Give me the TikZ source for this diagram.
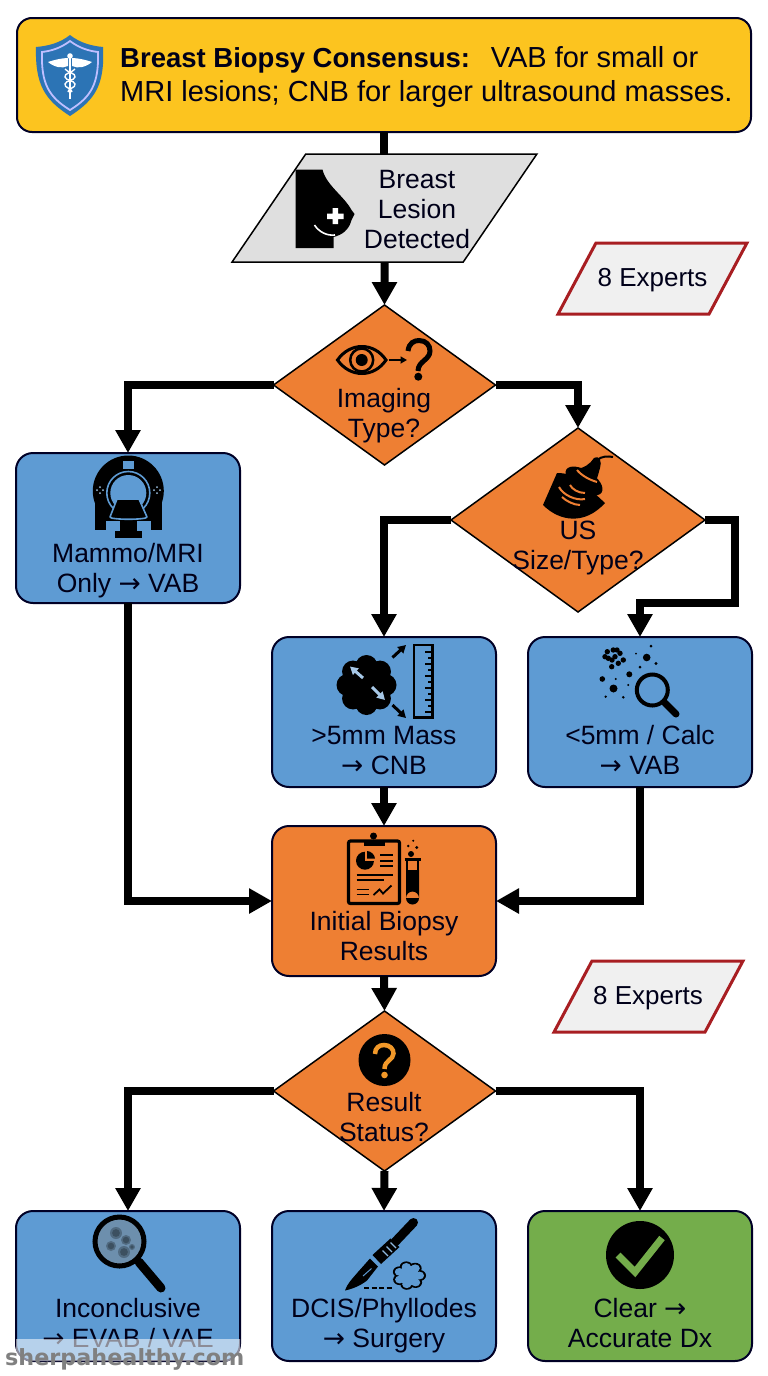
\documentclass[tikz,border=0pt]{standalone}
\usepackage{fontspec}
\setmainfont{Liberation Sans}
\newfontfamily\arrowfont{DejaVu Sans}
\usepackage{tikz}
\usetikzlibrary{shapes.geometric,arrows.meta}
\newcommand{\toarrow}{{\arrowfont →}}
\definecolor{boxblue}{HTML}{5E9BD3}
\definecolor{boxorange}{HTML}{EE7F33}
\definecolor{boxgreen}{HTML}{74AD4B}
\definecolor{boxyellow}{HTML}{FCC41F}
\definecolor{boxgray}{HTML}{DFDFDF}
\definecolor{notered}{HTML}{A81E22}
\definecolor{shieldblue}{HTML}{2C74B5}
\tikzset{box style/.style={
		draw=black!85!blue,
		line width=2pt,
		rectangle,
		rounded corners=17pt,
		minimum width=224pt,
		minimum height=150pt,
		inner sep=0pt,
		outer sep=0pt,
	},
	diamond style/.style={
		draw=black,
		line width=1.5pt,
		fill=boxorange,
		diamond,
		minimum width=222pt,
		minimum height=160pt,
		inner sep=0pt,
		outer sep=0pt,
	},
	input style/.style={
		draw=black,
		line width=1.5pt,
		fill=boxgray,
		trapezium,
		trapezium left angle=65.6,
		trapezium right angle=114.4,
		trapezium stretches=true,
		minimum width=305pt,
		minimum height=108pt,
		inner sep=0pt,
		outer sep=0pt,
	},
	note style/.style={
		draw=notered,
		line width=3pt,
		fill=black!6,
		trapezium,
		trapezium left angle=72,
		trapezium right angle=108,
		trapezium stretches=true,
		minimum width=189pt,
		minimum height=71pt,
		inner sep=0pt,
		outer sep=0pt,
	},
	text style/.style={
		align=center,
		inner sep=0pt,
		text=black!90!blue,
		font=\fontsize{26.5}{30}\selectfont,
	},
	flow style/.style={
		line width=8pt,
		draw=black,
		-{Triangle[length=23pt,width=24pt]},
	},
	stem style/.style={
		line width=8pt,
		draw=black,
	},
	arrow small/.style={
		line width=#1,
		-{Triangle[length=2.6*#1,width=2.8*#1]},
	},
}

\begin{document}
\begin{tikzpicture}[x=1pt,y=-1pt]
	\useasboundingbox[fill=white] (0,0) rectangle (768,1376);

	\node[box style, fill=boxyellow, rounded corners=15pt, minimum width=734pt, minimum height=114pt] (banner) at (384,75) {};
	\node[input style] (lesion) at (384.5,208) {\phantom{X}};
	\node[diamond style] (imaging) at (384.5,385) {};
	\node[diamond style, minimum width=254pt, minimum height=184pt] (us) at (578,520) {};
	\node[box style, fill=boxblue] (mammo) at (128,528) {};
	\node[box style, fill=boxblue] (mass) at (384,712) {};
	\node[box style, fill=boxblue] (calc) at (640,712) {};
	\node[box style, fill=boxorange] (initial) at (384,901) {};
	\node[diamond style] (result) at (384.5,1091) {};
	\node[box style, fill=boxblue] (inconclusive) at (128,1286) {};
	\node[box style, fill=boxblue] (dcis) at (384,1286) {};
	\node[box style, fill=boxgreen] (clear) at (640,1286) {};
	\node[note style] (experts1) at (652.5,278.5) {\phantom{X}};
	\node[note style] (experts2) at (648.5,996.5) {\phantom{X}};
	\coordinate (uselbow) at (735,603);

	\draw[stem style] (banner.south) -- (banner.south |- lesion.north);
	\draw[flow style] (lesion.south) -- (imaging.north);
	\draw[flow style] (imaging.west) -| (mammo.north);
	\draw[flow style] (imaging.east) -| (us.north);
	\draw[flow style] (us.west) -| (mass.north);
	\draw[flow style] (us.east) -| (uselbow) -| (calc.north);
	\draw[flow style] (mammo.south) |- (initial.west);
	\draw[flow style] (mass.south) -- (initial.north);
	\draw[flow style] (calc.south) |- (initial.east);
	\draw[flow style] (initial.south) -- (result.north);
	\draw[flow style] (result.west) -| (inconclusive.north);
	\draw[flow style] (result.south) -- (dcis.north);
	\draw[flow style] (result.east) -| (clear.north);

	\node[text style, anchor=west, align=left, font=\fontsize{29}{34}\selectfont] (bannertext) at (120,77) {{\fontsize{27.5}{34}\selectfont\textbf{Breast Biopsy Consensus:}}\hspace{10pt} VAB for small or\\MRI lesions; CNB for larger ultrasound masses.};
	\node[text style] (lesiontext) at (417,210) {Breast\\Lesion\\Detected};
	\node[text style, font=\fontsize{26}{30}\selectfont] (experts1text) at (652.5,280) {8 Experts};
	\node[text style, font=\fontsize{26}{30}\selectfont] (experts2text) at (648,998) {8 Experts};
	\node[text style] (imagingtext) at (384,416) {Imaging\\Type?};
	\node[text style] (ustext) at (578,547.5) {US\\Size/Type?};
	\node[text style] (mammotext) at (128,571) {Mammo/MRI\\Only \toarrow{} VAB};
	\node[text style] (masstext) at (384,751) {>5mm Mass\\\toarrow{} CNB};
	\node[text style] (calctext) at (640,750) {<5mm / Calc\\\toarrow{} VAB};
	\node[text style] (initialtext) at (384,936) {Initial Biopsy\\Results};
	\node[text style] (resulttext) at (384,1117) {Result\\Status?};
	\node[text style] (inconclusivetext) at (128,1323) {Inconclusive\\\toarrow{} EVAB / VAE};
	\node[text style] (dcistext) at (384,1326) {DCIS/Phyllodes\\\toarrow{} Surgery};
	\node[text style] (cleartext) at (640,1323) {Clear \toarrow\\Accurate Dx};

	\fill[shieldblue] (70,35) .. controls (80,43) and (92,46) .. (103,47) .. controls (105,85) and (95,100) .. (70,116) .. controls (45,100) and (35,85) .. (36,47) .. controls (48,46) and (60,43) .. (70,35) -- cycle;
	\draw[blue!25!white, line width=1.8pt] (70,41) .. controls (79,48) and (89,51) .. (98,52) .. controls (99,84) and (91,97) .. (70,110) .. controls (49,97) and (41,84) .. (42,52) .. controls (51,51) and (61,48) .. (70,41) -- cycle;
	\fill[white] (68,58) .. controls (62,58) and (54,60) .. (48,62) .. controls (54,67) and (62,69) .. (68,66) -- cycle;
	\fill[white] (72,58) .. controls (78,58) and (86,60) .. (92,62) .. controls (86,67) and (78,69) .. (72,66) -- cycle;
	\fill[white] (70,56) circle (2.8);
	\draw[white, line width=1.6pt] (70,56) -- (70,99);
	\draw[white, line width=1.4pt] (65,69) .. controls (68,73) and (76,73) .. (75,77) .. controls (74,81) and (66,80) .. (65,84) .. controls (64,88) and (72,88) .. (72,92);
	\draw[white, line width=1.4pt] (75,69) .. controls (72,73) and (64,73) .. (65,77) .. controls (66,81) and (74,80) .. (75,84) .. controls (76,88) and (68,88) .. (68,92);

	\fill[black] (295.5,169.5) -- (322.5,169.5) .. controls (326,185) and (344,196) .. (351.5,210) -- (354.5,214) -- (351.5,220) .. controls (349,230) and (342,235) .. (333.5,237) -- (333.5,248) -- (295.5,248) -- cycle;
	\draw[white, line width=1.6pt] (314.5,225) .. controls (319,232) and (327,236) .. (335,235);
	\fill[white] (332.5,208) rectangle (338,224) (327,213.5) rectangle (343.5,219);

	\draw[black, line width=3pt] (337.5,360) .. controls (350,342) and (374,342) .. (386,360) .. controls (374,378) and (350,378) .. (337.5,360) -- cycle;
	\draw[black, line width=2.5pt] (361.7,360) circle (11.5);
	\fill[black] (361.7,360) circle (6);
	\draw[arrow small=2.5pt] (388.5,360) -- (407,360);
	\draw[black, line width=5pt] (408,351) .. controls (409,343) and (414,340.5) .. (419,340.5) .. controls (426,340.5) and (430,345) .. (430,351) .. controls (430,360) and (418,361) .. (418,371);
	\fill[black] (418.3,376.7) circle (4);

	\fill[black] (128.3,491) circle (35.5);
	\fill[black] (95,500) rectangle (162,530);
	\draw[boxblue, line width=1.6pt] (128.3,493) circle (21.5);
	\fill[boxblue] (128.3,493) circle (18);
	\fill[boxblue] (122.5,461) rectangle (134,468.5);
	\foreach \dotx/\doty in {100/487,100/493,97/490,103/490,157/487,157/493,154/490,160/490}
		\fill[boxblue!60!white] (\dotx,\doty) circle (1);
	\draw[boxblue, line width=1.6pt, fill=black, line join=round] (117,499) -- (139,499) -- (147,517) .. controls (147,520) and (110,520) .. (110,517) -- cycle;
	\fill[boxblue] (106,521) rectangle (151,530);
	\fill[black] (120,521) rectangle (137,533);
	\fill[black] (115,531) rectangle (141.5,538);

	\foreach \lobe in {0,45,...,315}
		\fill[black] (366.5,685) ++(\lobe:19) circle (11);
	\fill[black] (366.5,685) circle (25);
	\draw[boxblue!55!white, arrow small=3pt] (363,678) -- (350,666.5);
	\draw[boxblue!55!white, arrow small=3pt] (372,687) -- (385,700);
	\draw[black, arrow small=3pt] (392.5,657.5) -- (406,645);
	\draw[black, arrow small=3pt] (392.5,705) -- (406,718);
	\draw[black, line width=2.8pt] (414,645) rectangle (432.5,717.5);
	\foreach \tick in {652,664,...,712}
		\draw[black, line width=1.5pt] (432,\tick) -- (425,\tick);
	\foreach \tick in {658,670,...,706}
		\draw[black, line width=1.5pt] (432,\tick) -- (428,\tick);

	\foreach \dotx/\doty in {607.3/651.7,613.3/650,620/653.3,608.3/658.3,615/656.7,623.3/660,611.7/666.7,618.3/663.3,605/656.7,612/660,617/650}
		\fill[black] (\dotx,\doty) circle (2.7);
	\foreach \dotx/\doty/\dotr in {602.3/679/2.8,613.5/688.5/4,629.3/674.3/3,646.7/657.5/3.8,656/663.5/1.6,651/646/1.5,636/653.5/1,640/667/1.5,615.7/679/1.1,628.3/685/1.1,605.7/696.7/1.3,623.3/697.3/1.4}
		\fill[black] (\dotx,\doty) circle (\dotr);
	\draw[black, line width=4pt] (652.3,690) circle (15.5);
	\draw[black, line width=7pt, line cap=round] (665,703) -- (676,714);

	\fill[black] (557,473) .. controls (565,473) and (572,475) .. (578,478) -- (605,503) .. controls (585,525) and (560,522) .. (543,505) -- cycle;
	\fill[black, rotate around={-33:(584,481)}] (584,481) ellipse (21 and 10.5);
	\fill[black] (573,470) .. controls (585,468) and (590,464) .. (594,458) .. controls (600,455) and (602,462) .. (600,468) .. controls (598,475) and (597,480) .. (594,485) -- cycle;
	\draw[black, line width=2pt] (597,460) .. controls (602,456) and (608,456) .. (613,457);
	\draw[boxorange, line width=2pt] (577,470) .. controls (582,476) and (590,480) .. (597,482);
	\draw[boxorange, line width=2pt] (562,497) .. controls (566,501) and (574,505) .. (580,505);
	\draw[boxorange, line width=2pt] (559,487) .. controls (563,495) and (576,501) .. (585,499);
	\draw[boxorange, line width=2pt] (570,485) .. controls (572,489) and (578,493) .. (585,493);

	\draw[black, line width=3.2pt, rounded corners=2pt] (348.5,841) rectangle (399.5,903.5);
	\fill[black] (363.5,839.5) rectangle (384.5,846);
	\fill[black] (373.5,836) circle (3.5);
	\fill[black] (365,860.7) circle (9);
	\fill[boxorange] (365,860.7) -- (365,850) -- (376,850) -- (376,860.7) -- cycle;
	\fill[black] (367,858.7) -- (367,851) .. controls (371,851) and (375,855) .. (375,858.7) -- cycle;
	\foreach \liney in {855,860.7,866}
		\draw[black, line width=1.6pt] (380,\liney) -- (392.5,\liney);
	\draw[black, line width=1.6pt] (356.5,875) -- (392.5,875);
	\draw[black, line width=1.6pt] (356.5,880) -- (383.5,880);
	\draw[black, line width=1.6pt] (356.5,889.5) -- (369,889.5);
	\draw[black, line width=1.6pt] (356.5,894.5) -- (369,894.5);
	\draw[black, line width=1.8pt] (373.5,895) -- (379.5,889.5) -- (383,893.5) -- (391.5,885.5);
	\draw[black, line width=2.5pt] (404.5,859.5) -- (421,859.5);
	\draw[black, line width=1.8pt] (407,860) -- (407,870) (418,860) -- (418,870);
	\fill[black] (406,870) rectangle (419,898) (412.5,898) circle (6.5);
	\fill[black] (411,854) circle (3);
	\fill[black] (416.7,847.5) circle (1.6);
	\fill[black] (408.3,846) circle (1.4);
	\fill[black] (413.3,840.7) circle (1.1);

	\fill[black] (384.5,1060) circle (26);
	\draw[boxorange!80!yellow, line width=4.5pt] (375,1054) .. controls (375,1048) and (379,1045) .. (384,1045) .. controls (390,1045) and (393.5,1049) .. (393.5,1053.5) .. controls (393.5,1060) and (384.5,1060) .. (384.5,1069);
	\fill[boxorange!80!yellow] (384.5,1075) circle (3.3);

	\fill[boxblue!55!gray] (119.5,1241.5) circle (24);
	\foreach \blobx/\bloby/\blobr in {116/1233/6,126/1240/5,111/1246/5,124/1252/6,132/1247/3}{
		\fill[black, opacity=.25] (\blobx,\bloby) circle (\blobr);
		\fill[black, opacity=.25] (\blobx,\bloby) circle (\blobr*.65);
	}
	\draw[black, line width=5pt] (119.5,1241.5) circle (24.5);
	\draw[black, line width=9pt, line cap=round] (139,1262) -- (161,1288);

	\draw[black, line width=9pt, line cap=round] (413.5,1222.5) -- (395,1242);
	\fill[black] (390.5,1238.5) -- (399.5,1247) -- (381,1264) -- (372.5,1255) -- cycle;
	\foreach \hatch in {0,1,2}
		\draw[boxblue!70!white, line width=1.3pt] (388+\hatch*4,1256-\hatch*4) -- (382.5+\hatch*4,1250.5-\hatch*4);
	\fill[black] (370,1258.5) -- (378,1266.5) -- (367,1280.5) .. controls (360,1286) and (352,1289) .. (345,1290.5) .. controls (347,1284) and (352,1279) .. (358,1272) -- cycle;
	\draw[boxblue, line width=1pt] (363,1276) -- (371.5,1268.5);
	\draw[black, line width=2.5pt, dash pattern=on 5pt off 2.5pt] (364,1288) -- (392.5,1288);
	\foreach \lobe in {0,51,...,309}
		\fill[black, shift={(409,1275.5)}, yscale=.85] (\lobe:10.5) circle (6.5);
	\foreach \lobe in {0,51,...,309}
		\fill[boxblue, shift={(409,1275.5)}, yscale=.85] (\lobe:10.5) circle (4.6);
	\fill[boxblue] (409,1275.5) circle (10);

	\fill[black] (640,1255) circle (34);
	\draw[boxgreen, line width=7pt] (618,1255) -- (635,1272) -- (662,1238);

	\fill[white, opacity=.55] (16,1339) -- (240,1339) {[rounded corners=12pt] -- (240,1361) -- (16,1361)} -- cycle;
	\node[text=black!50, inner sep=0pt, anchor=base west, font=\fontsize{22.3}{24}\selectfont\bfseries\fontspec{DejaVu Sans}] (watermark) at (5,1365) {sherpahealthy.com};
\end{tikzpicture}
\end{document}
